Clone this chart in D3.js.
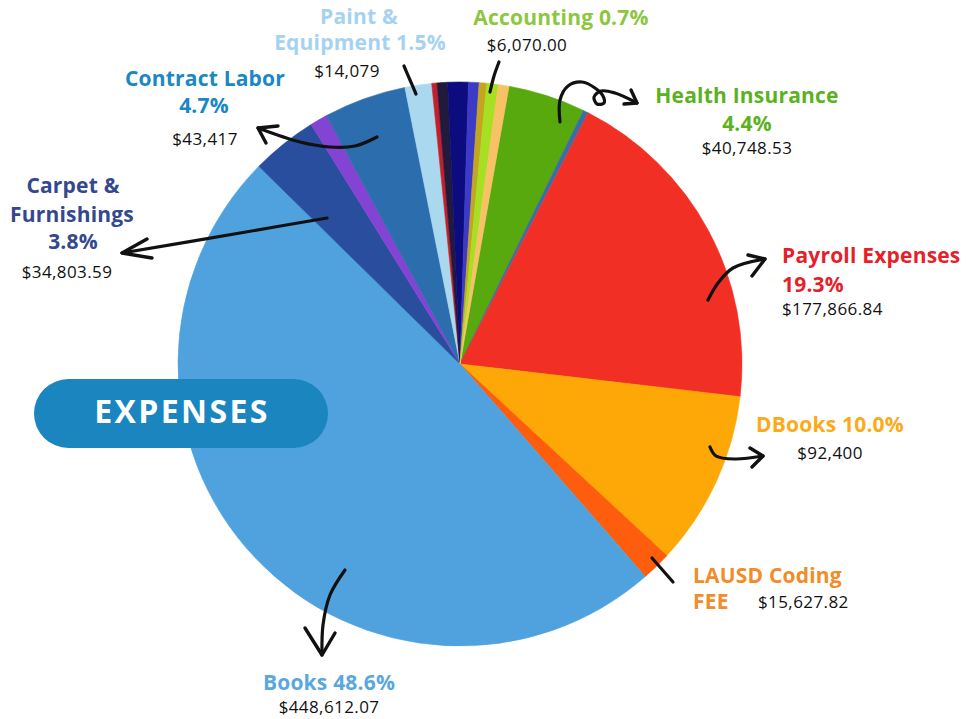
<!DOCTYPE html>
<html>
<head>
<meta charset="utf-8">
<script src="https://cdn.jsdelivr.net/npm/d3@7"></script>
<style>
  html, body { margin: 0; padding: 0; background: #ffffff; }
  svg { display: block; }
  .lbl { font-family: "Open Sans", "Noto Sans", sans-serif; font-weight: 700; letter-spacing: 0.2px; }
  .val { font-family: "Open Sans", "Noto Sans", sans-serif; font-weight: 400; fill: #111; letter-spacing: 0.4px; }
</style>
</head>
<body>
<svg id="chart" width="975" height="719"></svg>
<script>
// ---------- data ----------
const categories = [
  "Health Insurance", "Other (blue)", "Payroll Expenses", "DBooks", "LAUSD Coding FEE",
  "Books", "Carpet & Furnishings", "Other (purple)", "Contract Labor", "Paint & Equipment",
  "Other (red)", "Other (black)", "Other (navy)", "Other (indigo)", "Other (gold)",
  "Accounting", "Other (light orange)"
];
const values = [
  40748.53, 2770, 177866.84, 92400, 15627.82,
  448612.07, 34803.59, 9230, 43417, 14079,
  2770, 5540, 10800, 5540, 4000,
  6070, 5540
];
const sliceColors = [
  "#58a90e", "#3c6ea6", "#f22f24", "#fea807", "#fd5d0c",
  "#4fa2de", "#2a4e9e", "#8343d3", "#2c6dad", "#a9d8ef",
  "#c4202c", "#211a3c", "#0c0c7e", "#3b3bc8", "#c3a522",
  "#a7df22", "#f7c266"
];
// labels (name lines, percent, dollar value)
const labelNames   = ["Paint & Equipment", "Accounting", "Contract Labor", "Carpet & Furnishings",
                      "Health Insurance", "Payroll Expenses", "DBooks", "LAUSD Coding FEE", "Books"];
const labelPercents = ["1.5%", "0.7%", "4.7%", "3.8%", "4.4%", "19.3%", "10.0%", "", "48.6%"];
const labelValues   = ["$14,079", "$6,070.00", "$43,417", "$34,803.59", "$40,748.53",
                       "$177,866.84", "$92,400", "$15,627.82", "$448,612.07"];
const labelColors   = ["#a6d2f1", "#8dc63f", "#1b87c3", "#34488d", "#5cb21e",
                       "#e61f2a", "#fcaa1a", "#f28c28", "#5aa7e0"];
const title = "EXPENSES";

// ---------- layout ----------
const svg = d3.select("#chart");
const cx = 460, cy = 364, R = 282;
const deg = Math.PI / 180;

const pie = d3.pie().sort(null).value(d => d)
  .startAngle(10 * deg).endAngle(10 * deg + 2 * Math.PI);
const arc = d3.arc().innerRadius(0).outerRadius(R);

const g = svg.append("g").attr("transform", `translate(${cx},${cy})`);
g.selectAll("path.slice")
  .data(pie(values))
  .join("path")
  .attr("class", "slice")
  .attr("d", arc)
  .attr("fill", (d, i) => sliceColors[i])
  .attr("stroke", (d, i) => sliceColors[i])
  .attr("stroke-width", 0.6);

// ---------- title pill ----------
svg.append("rect")
  .attr("x", 34).attr("y", 379).attr("width", 294).attr("height", 69)
  .attr("rx", 34.5).attr("fill", "#1a85bf");
svg.append("text")
  .attr("x", 182).attr("y", 423)
  .attr("text-anchor", "middle")
  .attr("font-family", "'Open Sans', 'Noto Sans', sans-serif")
  .attr("font-weight", 700).attr("font-size", 32)
  .attr("letter-spacing", "2.4px")
  .attr("fill", "#ffffff")
  .text(title);

// ---------- labels ----------
const layout = [
  { lines: [["Paint &", 359, 24, "middle"], ["Equipment " + labelPercents[0], 360, 50, "middle"]], val: [347, 77, "middle"] },
  { lines: [["Accounting " + labelPercents[1], 561, 25, "middle"]], val: [527, 51, "middle"] },
  { lines: [["Contract Labor", 205, 86, "middle"], [labelPercents[2], 204, 113, "middle"]], val: [205, 145, "middle"] },
  { lines: [["Carpet &", 73, 193, "middle"], ["Furnishings", 72, 222, "middle"], [labelPercents[3], 73, 249, "middle"]], val: [67, 278, "middle"] },
  { lines: [["Health Insurance", 747, 103, "middle"], [labelPercents[4], 747, 131, "middle"]], val: [747, 154, "middle"] },
  { lines: [["Payroll Expenses", 782, 263, "start"], [labelPercents[5], 782, 292, "start"]], val: [782, 315, "start"] },
  { lines: [["DBooks " + labelPercents[6], 830, 432, "middle"]], val: [830, 459, "middle"] },
  { lines: [["LAUSD Coding", 693, 583, "start"], ["FEE", 693, 609, "start"]], val: [758, 608, "start"] },
  { lines: [["Books " + labelPercents[8], 329, 690, "middle"]], val: [329, 713, "middle"] }
];

layout.forEach((L, i) => {
  L.lines.forEach(([t, x, y, a]) => {
    svg.append("text").attr("class", "lbl")
      .attr("x", x).attr("y", y).attr("text-anchor", a)
      .attr("font-size", 21).attr("fill", labelColors[i]).text(t);
  });
  svg.append("text").attr("class", "val")
    .attr("x", L.val[0]).attr("y", L.val[1]).attr("text-anchor", L.val[2])
    .attr("font-size", 17).text(labelValues[i]);
});

// ---------- hand-drawn arrows (annotations) ----------
const line = d3.line().curve(d3.curveCatmullRom.alpha(0.5));
const arrows = [
  { pts: [[416, 94], [410, 80], [404, 66]], head: null },
  { pts: [[490, 92], [494, 76], [499, 62]], head: null },
  { pts: [[560, 122], [560, 100], [568, 86], [582, 82], [595, 88], [603, 96], [604, 103], [597, 104], [594, 97], [601, 91], [615, 93], [637, 103]],
    head: [[631, 90], [637, 103], [624, 104]] },
  { pts: [[708, 300], [718, 283], [733, 268], [765, 259]], head: [[748, 255], [765, 259], [752, 276]] },
  { pts: [[710, 447], [716, 456], [735, 459], [763, 456]], head: [[750, 448], [763, 456], [752, 467]] },
  { pts: [[652, 558], [673, 582]], head: null },
  { pts: [[345, 570], [330, 595], [323, 625], [322, 655]], head: [[305, 628], [322, 655], [335, 633]] },
  { pts: [[377, 137], [355, 146], [330, 147], [300, 142], [258, 128]], head: [[278, 126], [258, 128], [266, 143]] },
  { pts: [[327, 218], [240, 233], [122, 253]], head: [[147, 239], [122, 253], [152, 258]] }
];
arrows.forEach(a => {
  svg.append("path").attr("d", line(a.pts))
    .attr("fill", "none").attr("stroke", "#111").attr("stroke-width", 3.2)
    .attr("stroke-linecap", "round").attr("stroke-linejoin", "round");
  if (a.head) {
    svg.append("path").attr("d", d3.line()(a.head))
      .attr("fill", "none").attr("stroke", "#111").attr("stroke-width", 3.4)
      .attr("stroke-linecap", "round").attr("stroke-linejoin", "round");
  }
});
</script>
</body>
</html>
